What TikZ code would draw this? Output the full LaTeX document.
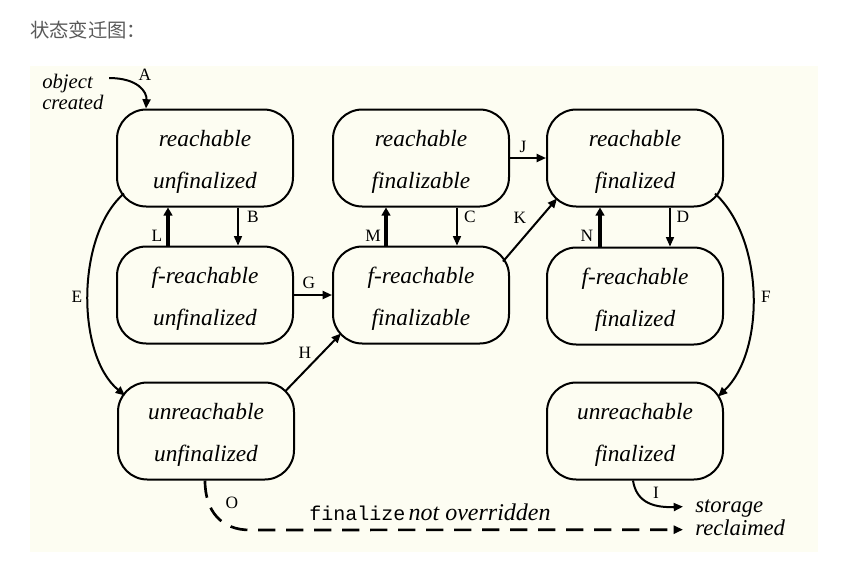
\documentclass[tikz,border=0pt]{standalone}
\usepackage{fontspec}
\setmainfont{Liberation Serif}
\setmonofont{Liberation Mono}
\newfontfamily\cjkfont{Noto Sans CJK SC}
\usetikzlibrary{arrows.meta,calc}
\definecolor{panel}{RGB}{253,253,242}
\definecolor{headgray}{RGB}{89,89,89}
\newcommand{\twolines}[2]{\rule{0pt}{18pt}#1\\#2}
\begin{document}
\begin{tikzpicture}[x=0.75pt,y=-0.75pt,
  state/.style={draw, line width=1.5pt, rounded corners=22pt, minimum width=132pt,
    minimum height=72.75pt, inner sep=0pt, align=center,
    font=\fontsize{17.5}{32}\selectfont\itshape},
  lab/.style={font=\fontsize{13}{15}\selectfont, inner sep=0pt},
  txt/.style={font=\fontsize{17}{20}\selectfont\itshape, inner sep=0pt},
  tip/.style={-{Triangle[length=7pt,width=6pt]}},
  arr/.style={line width=1.5pt, tip},
  thinarr/.style={line width=1.1pt, tip},
  thickarr/.style={line width=2.3pt, -{Triangle[length=6pt,width=6.5pt]}},
]
\useasboundingbox (0,0) rectangle (854,569);
\fill[panel] (30,66) rectangle (818,552);
\node[anchor=west, font=\cjkfont\fontsize{14.5}{16}\selectfont, text=headgray, inner sep=0pt] (hd) at (30,30) {状态变迁图：};

% states
\node[state] (n1) at (205,158) {\twolines{reachable}{unfinalized}};
\node[state] (n2) at (205,295) {\twolines{f-reachable}{unfinalized}};
\node[state] (n3) at (421,158) {\twolines{reachable}{finalizable}};
\node[state] (n4) at (421,295) {\twolines{f-reachable}{finalizable}};
\node[state] (n5) at (635,158) {\twolines{reachable}{finalized}};
\node[state] (n6) at (635,296) {\twolines{f-reachable}{finalized}};
\node[state] (n7) at (206,431) {\twolines{unreachable}{unfinalized}};
\node[state] (n8) at (635,431) {\twolines{unreachable}{finalized}};

% free texts
\node[txt, font=\fontsize{15.5}{18}\selectfont\itshape, anchor=base west] (ob) at (42,88) {object};
\node[txt, font=\fontsize{15.5}{18}\selectfont\itshape, anchor=base west] (cr) at (42,109) {created};
\node[txt, anchor=base west, text height=12pt, text depth=4pt, inner xsep=9pt] (st) at (683,512) {storage};
\node[txt, anchor=base west, text height=12pt, text depth=4pt, inner xsep=9pt] (rc) at (683,535) {reclaimed};
\node[anchor=base west, inner sep=0pt] (fn) at (309,520)
  {{\ttfamily\fontsize{15}{16}\selectfont finalize} {\itshape\fontsize{18}{20}\selectfont not overridden}};

% A
\draw[arr] ($(ob.east)+(16,-5)$) .. controls (138,78) and (147,92) .. ($(n1.north west)+(30,0)$);
\node[lab] (lA) at (145,75) {A};

% vertical pairs
\draw[thinarr] ($(n1.south)+(33,0)$) -- ($(n2.north)+(33,0)$);
\draw[thickarr] ($(n2.north)+(-37,0)$) -- ($(n1.south)+(-37,0)$);
\node[lab] (lB) at (253,217) {B};
\node[lab] (lL) at (157,236) {L};

\draw[thinarr] ($(n3.south)+(36,0)$) -- ($(n4.north)+(36,0)$);
\draw[thickarr] ($(n4.north)+(-35,0)$) -- ($(n3.south)+(-35,0)$);
\node[lab] (lC) at (470,217) {C};
\node[lab] (lM) at (373,236) {M};

\draw[thinarr] ($(n5.south)+(35,0)$) -- ($(n6.north)+(35,0)$);
\draw[thickarr] ($(n6.north)+(-35,0)$) -- ($(n5.south)+(-35,0)$);
\node[lab] (lD) at (683,217) {D};
\node[lab] (lN) at (587,236) {N};

% J, G, K, H
\draw[arr] (n3.east) -- (n5.west);
\node[lab] (lJ) at (523,147) {J};
\draw[arr] (n2.east) -- (n4.west);
\node[lab] (lG) at (309,283) {G};
\draw[arr] ($(n4.north east)+(-7,16)$) -- ($(n5.south west)+(11,-9)$);
\node[lab] (lK) at (520,218) {K};
\draw[arr] ($(n7.north east)+(-10,10)$) -- ($(n4.south west)+(9,-11)$);
\node[lab] (lH) at (305,353) {H};

% E, F
\draw[arr] ($(n1.south west)+(8,-14)$) .. controls (76,235) and (76,355) .. ($(n7.north west)+(8,14)$);
\node[lab] (lE) at (77,297) {E};
\draw[arr] ($(n5.south east)+(-9,-14)$) .. controls (765,240) and (765,352) .. ($(n8.north east)+(-6,15)$);
\node[lab] (lF) at (766,297) {F};

% I
\draw[arr] ($(n8.south)+(-2,0)$) .. controls (636,500) and (650,508) .. (st.west);
\node[lab] (lI) at (656,493) {I};

% O
\draw[line width=2pt, dash pattern=on 13pt off 8pt, -{Triangle[length=7pt,width=6pt]}]
  ($(n7.south)+(-1,0)$) .. controls (205,512) and (222,530) .. (250,530) -- (rc.west);
\node[lab] (lO) at (232,503) {O};
\end{tikzpicture}
\end{document}
